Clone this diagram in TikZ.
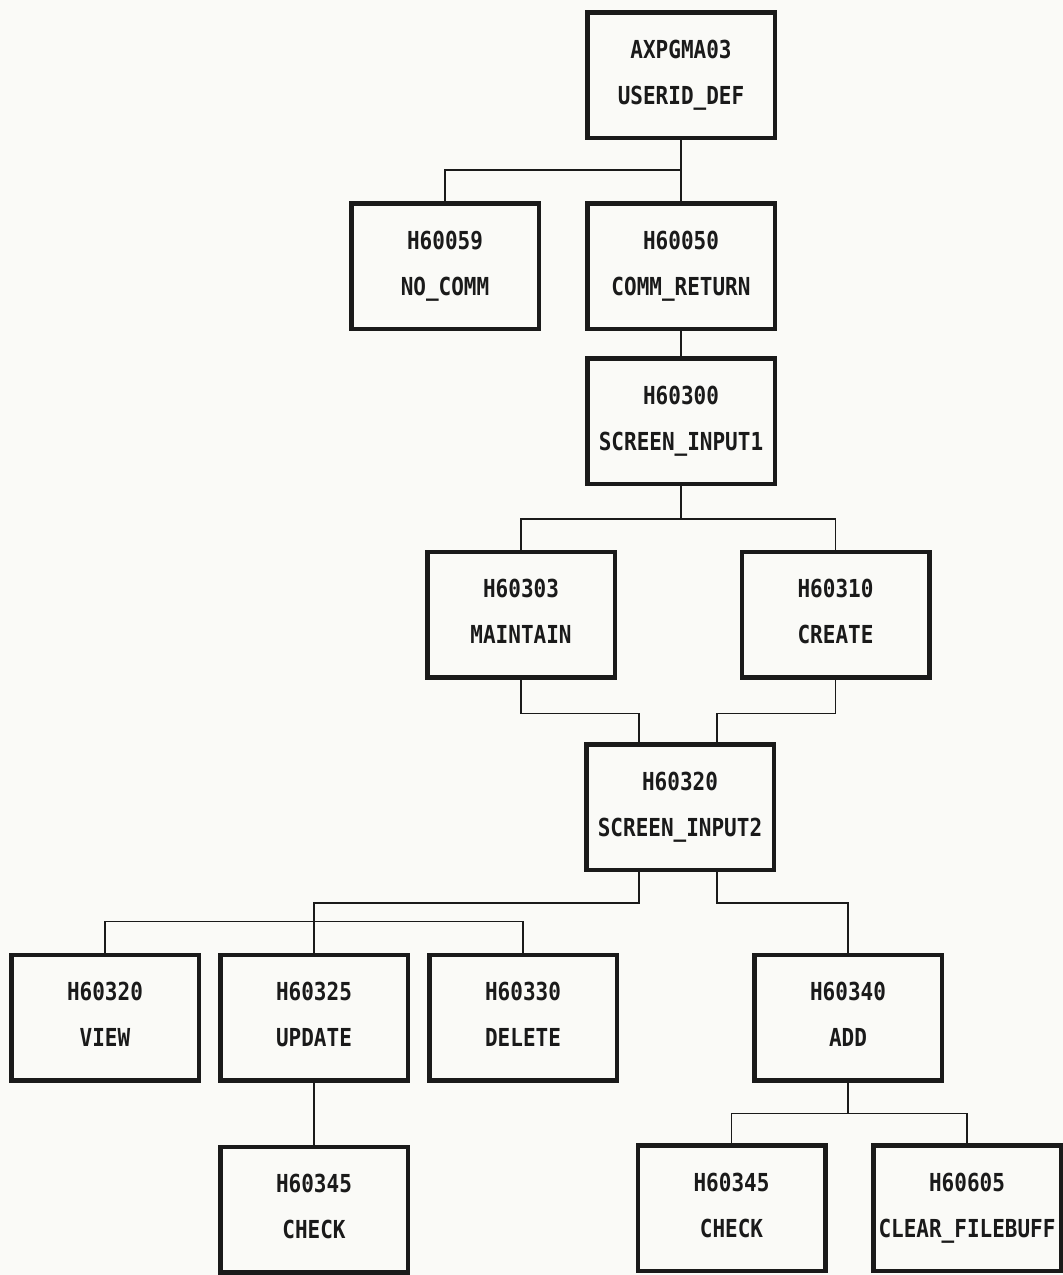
\documentclass[tikz,border=0pt]{standalone}
\usepackage{fontspec}
\setmonofont{DejaVu Sans Mono}
\usepackage{xcolor}
\usepackage{graphicx}
\usepackage{tikz}
\usetikzlibrary{positioning}
\definecolor{papel}{HTML}{FAFAF7}
\definecolor{tinta}{HTML}{1A1A1A}
\newcommand{\alto}[1]{\scalebox{1}[1.18]{#1}}
\newcommand{\modulo}[2]{\alto{#1}\\\alto{#2\vphantom{\_}}}
\tikzset{
  caja/.style={draw=tinta,fill=papel,line width=4.5pt,align=center,
    minimum width=187.5pt,minimum height=125.5pt,inner sep=0pt,
    font=\fontsize{21}{46}\selectfont\ttfamily\bfseries,text=tinta},
  linea/.style={draw=tinta,line width=1.6pt},
}

\begin{document}
\begin{tikzpicture}[x=1pt,y=1pt]
  \fill[papel] (0,0) rectangle (1063,-1275);
  \useasboundingbox (0,0) rectangle (1063,-1275);
  % nivel 1 y 2
  \node[caja] (axp) at (681,-75) {\modulo{AXPGMA03}{USERID\_DEF}};
  \node[caja,below=61pt of axp] (commret) {\modulo{H60050}{COMM\_RETURN}};
  \node[caja,left=44pt of commret] (nocomm) {\modulo{H60059}{NO\_COMM}};
  \node[caja,below=25pt of commret] (scr1) {\modulo{H60300}{SCREEN\_INPUT1}};
  % pantallas
  \node[caja] (maint) at (521,-614.5) {\modulo{H60303}{MAINTAIN}};
  \node[caja] (create) at (835.5,-614.5) {\modulo{H60310}{CREATE}};
  \node[caja] (scr2) at (680,-807) {\modulo{H60320}{SCREEN\_INPUT2}};
  % operaciones
  \node[caja] (view) at (105,-1017.5) {\modulo{H60320}{VIEW}};
  \node[caja,right=17pt of view] (update) {\modulo{H60325}{UPDATE}};
  \node[caja,right=17pt of update] (delete) {\modulo{H60330}{DELETE}};
  \node[caja] (add) at (848,-1017.5) {\modulo{H60340}{ADD}};
  \node[caja,below=62pt of update] (checku) {\modulo{H60345}{CHECK}};
  \node[caja] (checka) at (731.5,-1208) {\modulo{H60345}{CHECK}};
  \node[caja] (clear) at (967,-1208) {\modulo{H60605}{CLEAR\_FILEBUFF}};
  % enlaces
  \draw[linea] (axp.south) -- ++(0,-30) -| (nocomm.north);
  \draw[linea] (axp) -- (commret);
  \draw[linea] (commret) -- (scr1);
  \draw[linea] (scr1.south) -- ++(0,-33) coordinate (b1);
  \draw[linea] (b1) -| (maint.north);
  \draw[linea] (b1) -| (create.north);
  \draw[linea] (maint.south) -- ++(0,-34) -| ([xshift=-41pt]scr2.north);
  \draw[linea] (create.south) -- ++(0,-34) -| ([xshift=37pt]scr2.north);
  \draw[linea] ([xshift=-41pt]scr2.south) -- ++(0,-31) -| (update.north);
  \draw[linea] (view.north) -- ++(0,31) -| (delete.north);
  \draw[linea] ([xshift=37pt]scr2.south) -- ++(0,-31) -| (add.north);
  \draw[linea] (update) -- (checku);
  \draw[linea] (add.south) -- ++(0,-31) coordinate (b2);
  \draw[linea] (b2) -| (checka.north);
  \draw[linea] (b2) -| (clear.north);
\end{tikzpicture}
\end{document}
